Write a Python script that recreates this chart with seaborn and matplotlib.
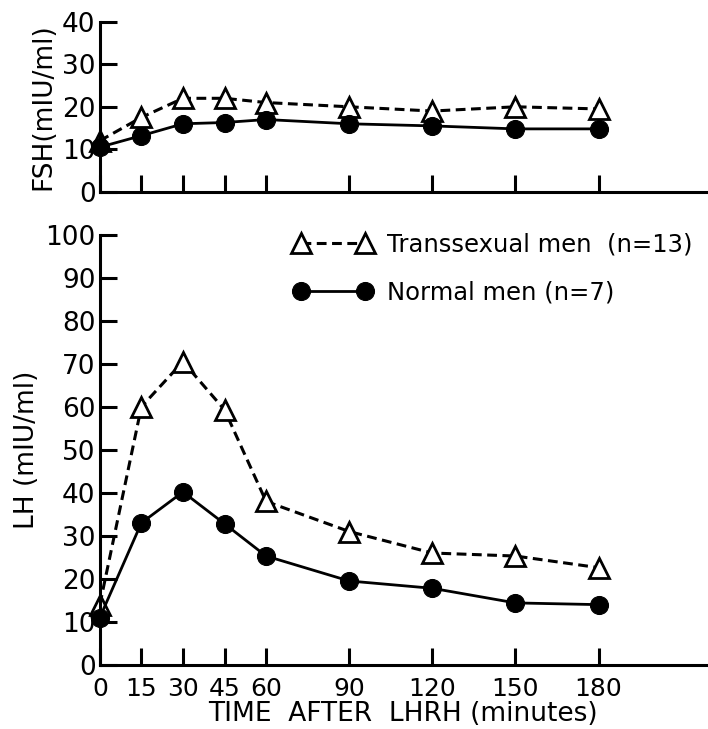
import matplotlib
matplotlib.use("Agg")
import matplotlib.pyplot as plt
import seaborn as sns
import pandas as pd

# time points (minutes after LHRH)
minutes = [0, 15, 30, 45, 60, 90, 120, 150, 180]

# FSH (mIU/ml)
fsh_trans = [12, 17.5, 22, 22, 21, 20, 19, 20, 19.5]
fsh_normal = [10.5, 13.2, 16, 16.3, 17, 16, 15.5, 14.8, 14.8]

# LH (mIU/ml)
lh_trans = [14, 60, 70.5, 59.3, 38, 31, 26, 25.3, 22.6]
lh_normal = [11, 33, 40.2, 32.8, 25.3, 19.5, 17.8, 14.4, 14]

fsh_ticks = [0, 10, 20, 30, 40]
lh_ticks = [0, 10, 20, 30, 40, 50, 60, 70, 80, 90, 100]

trans_label = "Transsexual men  (n=13)"
normal_label = "Normal men (n=7)"

sns.set_style("ticks", {"axes.edgecolor": "black", "text.color": "black",
                        "xtick.color": "black", "ytick.color": "black",
                        "axes.labelcolor": "black"})
plt.rcParams["font.family"] = ["DejaVu Sans"]

fig = plt.figure(figsize=(7.08, 7.29), dpi=100)
ax_top = fig.add_axes([0.141, 0.737, 0.857, 0.233])
ax_bot = fig.add_axes([0.141, 0.088, 0.857, 0.590])

df_fsh = pd.DataFrame({"t": minutes, "trans": fsh_trans, "normal": fsh_normal})
df_lh = pd.DataFrame({"t": minutes, "trans": lh_trans, "normal": lh_normal})

tri_kw = dict(color="black", marker="^", markersize=15, markerfacecolor="white",
              markeredgecolor="black", markeredgewidth=2, linewidth=2.2,
              dashes=(3.2, 1.8))
dot_kw = dict(color="black", marker="o", markersize=13, markerfacecolor="black",
              markeredgecolor="black", linewidth=2)

for ax, df in [(ax_top, df_fsh), (ax_bot, df_lh)]:
    sns.lineplot(data=df, x="t", y="trans", ax=ax, label=trans_label, **tri_kw)
    sns.lineplot(data=df, x="t", y="normal", ax=ax, label=normal_label, **dot_kw)
    ax.set_xlim(0, 219)
    ax.set_xticks(minutes)
    sns.despine(ax=ax)
    for side in ["left", "bottom"]:
        ax.spines[side].set_linewidth(2.2)
    ax.tick_params(direction="in", length=12, width=2.2, labelsize=19)
    ax.tick_params(axis="y", pad=3)
    ax.tick_params(axis="x", pad=9, labelsize=18)
    ax.set_xlabel("")
    for m in ax.lines:
        m.set_clip_on(False)

ax_top.set_ylim(0, 40)
ax_top.set_yticks(fsh_ticks)
ax_top.set_xticklabels([])
ax_top.set_ylabel("FSH(mIU/ml)", fontsize=19, labelpad=4)
ax_top.get_legend().remove()

ax_bot.set_ylim(0, 100)
ax_bot.set_yticks(lh_ticks)
ax_bot.set_ylabel("LH (mIU/ml)", fontsize=19, labelpad=4)
ax_bot.set_xlabel("TIME  AFTER  LHRH (minutes)", fontsize=19, labelpad=0)

handles, labels = ax_bot.get_legend_handles_labels()
ax_bot.legend(handles, labels, loc="upper right", bbox_to_anchor=(1.0, 1.04),
              frameon=False, fontsize=17.5, numpoints=2, handlelength=3.2,
              labelspacing=1.0, handletextpad=0.6, borderaxespad=0.2)

fig.savefig("out.png", dpi=100)
